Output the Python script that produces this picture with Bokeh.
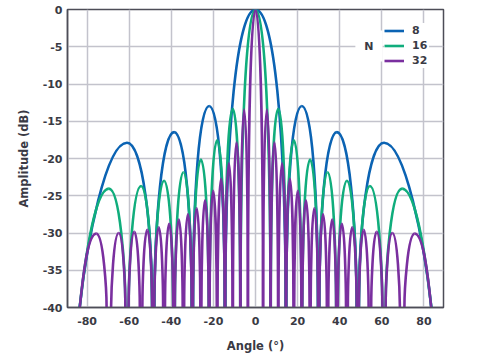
from bokeh.plotting import figure
from bokeh.models import Legend, LegendItem, Range1d, FixedTicker, Label
from bokeh.embed import file_html
from bokeh.resources import INLINE

# ---------------- data ----------------
x_ticks = [-80, -60, -40, -20, 0, 20, 40, 60, 80]
x_tick_labels = ["-80", "-60", "-40", "-20", "0", "20", "40", "60", "80"]
y_ticks = [-40, -35, -30, -25, -20, -15, -10, -5, 0]
y_tick_labels = ["-40", "-35", "-30", "-25", "-20", "-15", "-10", "-5", "0"]

legend_title = "N"
series_labels = ["8", "16", "32"]
series_colors = ["#0b63b3", "#10ad7c", "#7a2f9f"]

# main lobe: angle (deg) where it crosses the -40 dB floor, peak level (dB)
main_cross = [14.33, 7.11, 3.58]
main_peak_db = [0.0, 0.0, 0.0]

# side lobes on the positive side (mirror-symmetric about 0 deg)
# start / end: angles where the lobe meets the -40 dB floor
n8_start = [14.62, 30.30, 49.10]
n8_end = [29.70, 48.08, 83.53]
n8_peak_deg = [22.02, 38.68, 61.04]
n8_peak_db = [-12.96, -16.46, -17.89]

n16_start = [7.25, 14.62, 22.24, 30.30, 39.06, 49.10, 61.80]
n16_end = [14.33, 21.81, 29.70, 38.30, 48.08, 60.31, 83.52]
n16_peak_deg = [10.81, 18.21, 25.94, 34.23, 43.43, 54.34, 69.64]
n16_peak_db = [-13.34, -17.55, -20.13, -21.84, -22.99, -23.70, -24.04]

n32_start = [3.62, 7.25, 10.92, 14.62, 18.39, 22.24, 26.20, 30.30,
             34.58, 39.06, 43.88, 49.11, 54.95, 61.81, 70.73]
n32_end = [7.11, 10.70, 14.33, 18.03, 21.81, 25.69, 29.70, 33.89,
           38.30, 42.99, 48.07, 53.74, 60.30, 68.60, 83.47]
n32_peak_deg = [5.38, 8.99, 12.64, 16.34, 20.11, 23.97, 27.96, 32.09,
                36.43, 41.01, 45.95, 51.39, 57.54, 64.99, 75.64]
n32_peak_db = [-13.43, -17.82, -20.65, -22.72, -24.32, -25.60, -26.64, -27.50,
               -28.20, -28.77, -29.23, -29.58, -29.84, -30.01, -30.09]

side_lobes = [
    (n8_start, n8_end, n8_peak_deg, n8_peak_db),
    (n16_start, n16_end, n16_peak_deg, n16_peak_db),
    (n32_start, n32_end, n32_peak_deg, n32_peak_db),
]

FLOOR = -40.0

# ---------------- figure ----------------
p = figure(width=484, height=353, output_backend="svg", toolbar_location=None,
           x_range=Range1d(-89.3, 89.3), y_range=Range1d(FLOOR, 0),
           min_border_top=7, min_border_left=59, min_border_right=49,
           min_border_bottom=43, margin=(2, 0, 0, 8))
p.background_fill_color = "white"
p.border_fill_color = "white"
p.outline_line_color = "#4d4d57"
p.outline_line_width = 1.5

TXT = "#3a3a44"
FONT = "DejaVu Sans"
for ax, ticks, labels in ((p.xaxis[0], x_ticks, x_tick_labels), (p.yaxis[0], y_ticks, y_tick_labels)):
    ax.ticker = FixedTicker(ticks=ticks)
    ax.major_label_overrides = {t: l for t, l in zip(ticks, labels)}
    ax.major_tick_in = 0
    ax.major_tick_out = 0
    ax.minor_tick_in = 0
    ax.minor_tick_out = 0
    ax.axis_line_color = "#4d4d57"
    ax.axis_line_width = 1.5
    ax.major_label_text_font = FONT
    ax.major_label_text_font_style = "bold"
    ax.major_label_text_font_size = "11px"
    ax.major_label_text_color = TXT
    ax.axis_label_text_font = FONT
    ax.axis_label_text_font_style = "bold"
    ax.axis_label_text_font_size = "11.5px"
    ax.axis_label_text_color = TXT

p.xaxis.axis_label = "Angle (°)"
p.yaxis.axis_label = "Amplitude (dB)"
p.xaxis.major_label_standoff = 9
p.yaxis.major_label_standoff = 5
p.xaxis.axis_label_standoff = 11
p.yaxis.axis_label_standoff = 9

p.xgrid.ticker = FixedTicker(ticks=x_ticks)
p.ygrid.ticker = FixedTicker(ticks=y_ticks)
for g in (p.xgrid[0], p.ygrid[0]):
    g.grid_line_color = "#c3c3cc"
    g.grid_line_width = 1.5


def half_lobe_params(depth, ratio):
    # shape of one half of a lobe (floor crossing -> peak)
    f = min(max((depth - 10.0) / 17.0, 0.0), 1.0)
    g = min(max((ratio - 1.0) / 0.8, 0.0), 1.0)
    a0, b0 = 0.2 + 0.4 * f, 0.7 - 0.1 * f
    a1, b1 = 0.25 + 0.2 * f, 0.55 - 0.15 * f
    return 0.15 * g, (1 - g) * a0 + g * a1, (1 - g) * b0 + g * b1


def lobes_to_bezier(lobes):
    cols = {k: [] for k in ("x0", "y0", "x1", "y1", "cx0", "cy0", "cx1", "cy1")}
    for xs, xe, xp, yp in lobes:
        depth = yp - FLOOR
        wl, wr = xp - xs, xe - xp
        for xc, w, wo, sgn in ((xs, wl, wr, 1.0), (xe, wr, wl, -1.0)):
            c, a, b = half_lobe_params(depth, w / wo)
            cols["x0"].append(xc)
            cols["y0"].append(FLOOR)
            cols["x1"].append(xp)
            cols["y1"].append(yp)
            cols["cx0"].append(xc + sgn * c * w)
            cols["cy0"].append(FLOOR + a * depth)
            cols["cx1"].append(xp - sgn * b * w)
            cols["cy1"].append(yp)
    return cols


legend_items = []
for i, lab in enumerate(series_labels):
    st, en, pdg, pdb = side_lobes[i]
    lobes = [(-main_cross[i], main_cross[i], 0.0, main_peak_db[i])]
    for s, e, xp, yp in zip(st, en, pdg, pdb):
        lobes.append((s, e, xp, yp))
        lobes.append((-e, -s, -xp, yp))
    cols = lobes_to_bezier(lobes)
    r = p.bezier(line_color=series_colors[i], line_width=2.6, **cols)
    legend_items.append(LegendItem(label=lab, renderers=[r], index=0))

legend = Legend(items=legend_items, location="top_right")
legend.label_text_font = FONT
legend.label_text_font_style = "bold"
legend.label_text_font_size = "11px"
legend.label_text_color = TXT
legend.glyph_width = 20
legend.glyph_height = 15
legend.label_height = 15
legend.label_width = 17
legend.label_standoff = 8
legend.spacing = 0
legend.padding = 6
legend.margin = 14
legend.border_line_color = None
legend.background_fill_color = "white"
legend.background_fill_alpha = 1.0
p.add_layout(legend)

# legend title "N", to the left of the entries, level with the middle one
p.add_layout(Label(x=53.9, y=-4.9, text=legend_title, text_align="center",
                   text_baseline="middle", text_font=FONT, text_font_style="bold",
                   text_font_size="11px", text_color=TXT,
                   background_fill_color="white", padding=9, level="overlay"))

open("out.html", "w").write(file_html(p, INLINE))
